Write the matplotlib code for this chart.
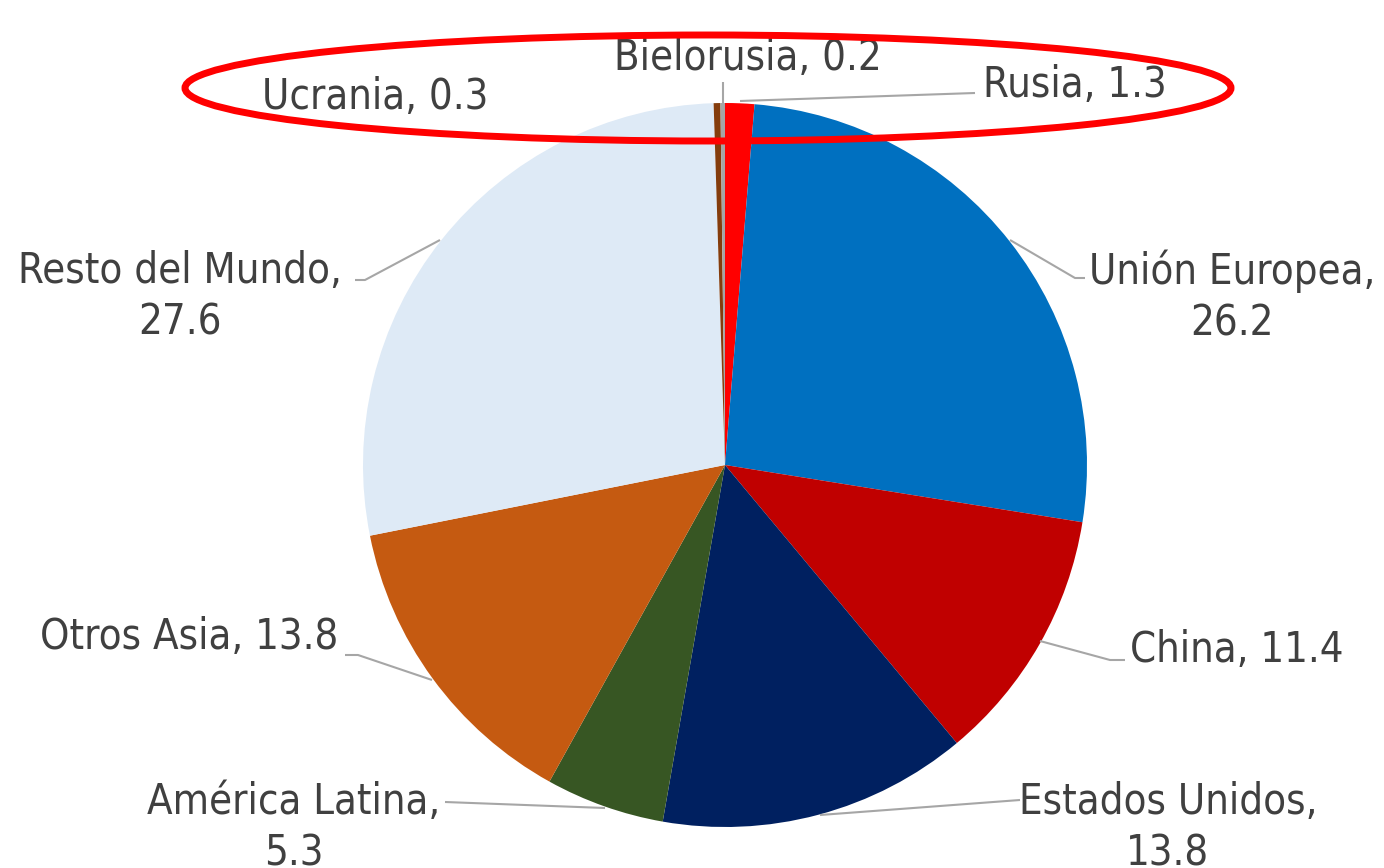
import matplotlib.pyplot as plt
from matplotlib import font_manager
from matplotlib.patches import Ellipse

# data, clockwise from 12 o'clock
regions = ['Rusia', 'Unión Europea', 'China', 'Estados Unidos', 'América Latina',
           'Otros Asia', 'Resto del Mundo', 'Ucrania', 'Bielorusia']
shares = [1.3, 26.2, 11.4, 13.8, 5.3, 13.8, 27.6, 0.3, 0.2]
colors = ['#FF0000', '#0070C0', '#C00000', '#002060', '#375623',
          '#C55A11', '#DEEAF6', '#843C0C', '#A5A5A5']
labels = ['Rusia, 1.3', 'Unión Europea,\n26.2', 'China, 11.4', 'Estados Unidos,\n13.8',
          'América Latina,\n5.3', 'Otros Asia, 13.8', 'Resto del Mundo,\n27.6',
          'Ucrania, 0.3', 'Bielorusia, 0.2']

W, H = 1384, 868

# narrow upright font if there is one, Lato otherwise
names = {f.name for f in font_manager.fontManager.ttflist}
files = [f.fname for f in font_manager.fontManager.ttflist
         if f.name == 'DejaVu Sans' and 'ondensed' in f.fname
         and 'Bold' not in f.fname and 'Oblique' not in f.fname]
font = dict(family='Lato', fontsize=31)
if 'Liberation Sans Narrow' in names:
    font = dict(family='Liberation Sans Narrow', fontsize=32)
elif files:
    font = dict(fontproperties=font_manager.FontProperties(fname=files[0], size=30))

fig = plt.figure(figsize=(W / 100, H / 100), dpi=100)
ax = fig.add_axes([0, 0, 1, 1])

ax.pie(shares, colors=colors, startangle=90, counterclock=False,
       center=(725, H - 465), radius=362, wedgeprops=dict(linewidth=0))

# label layout in pixel coords (x, y from top): text anchor, leader polyline
layout = {
    'Rusia':           ((983, 85, 'left'),   [(975, 93), (740, 101)]),
    'Unión Europea':   ((1232, 297, 'center'), [(1085, 278), (1075, 278), (1010, 240)]),
    'China':           ((1130, 650, 'left'), [(1125, 660), (1110, 660), (1040, 641)]),
    'Estados Unidos':  ((1168, 828, 'center'), [(1020, 800), (820, 815)]),
    'América Latina':  ((294, 828, 'center'), [(445, 802), (605, 808)]),
    'Otros Asia':      ((338, 637, 'right'), [(345, 655), (358, 655), (432, 680)]),
    'Resto del Mundo': ((180, 297, 'center'), [(355, 280), (365, 280), (440, 240)]),
    'Ucrania':         ((262, 97, 'left'),   []),
    'Bielorusia':      ((748, 58, 'center'), [(723, 82), (723, 110)]),
}

for name, lab in zip(regions, labels):
    (tx, ty, ha), pts = layout[name]
    ax.text(tx, H - ty, lab, ha=ha, va='center', color='#404040',
            linespacing=1.3, zorder=5, **font)
    if pts:
        ax.plot([p[0] for p in pts], [H - p[1] for p in pts], color='#A6A6A6',
                lw=1.5, zorder=4, solid_capstyle='butt')

# red highlight around the small slices
ax.add_patch(Ellipse((708, H - 88), 1046, 106, fill=False, edgecolor='#FF0000',
                     linewidth=5, zorder=6))

ax.set_xlim(0, W)
ax.set_ylim(0, H)
ax.set_aspect('auto')
ax.axis('off')
fig.savefig('out.png', dpi=100)
